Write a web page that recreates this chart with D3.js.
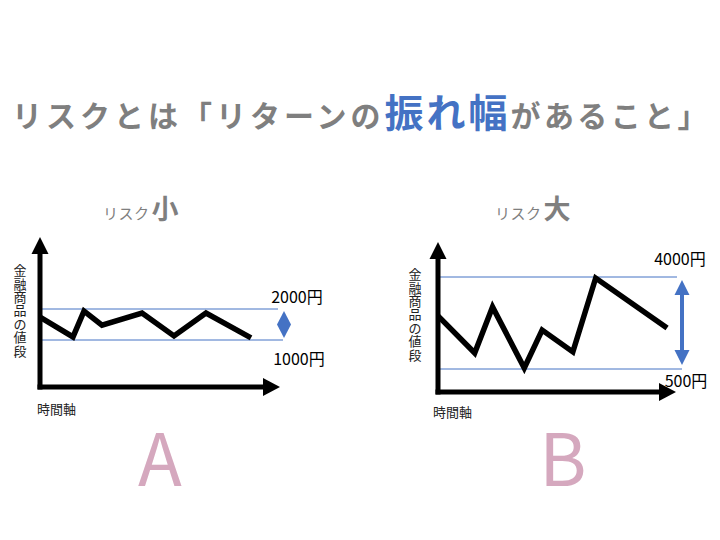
<!DOCTYPE html>
<html><head><meta charset="utf-8">
<script src="https://cdn.jsdelivr.net/npm/d3@7"></script>
<style>
html,body{margin:0;padding:0;background:#fff;}
svg{display:block;}
text{font-family:"Noto Sans CJK JP","Noto Sans",sans-serif;}
</style></head>
<body>
<svg id="chart" width="720" height="540"></svg>
<script>
// ---- data ----
const titleParts = [
  {text: "リスクとは「リターンの", emph: false},
  {text: "振れ幅", emph: true},
  {text: "があること」", emph: false}
];
const panelNames = ["A", "B"];
const panelRisk = ["小", "大"];
const yAxisLabel = "金融商品の値段";
const xAxisLabel = "時間軸";
const leftTimes  = [0, 3.3, 4.4, 6.2, 10.2, 13.4, 16.6, 21.1];
const leftPrices = [1740, 1100, 1930, 1480, 1870, 1130, 1870, 1070];
const rightTimes  = [0, 3.7, 5.5, 8.7, 10.5, 13.6, 15.9, 23.1];
const rightPrices = [2520, 1110, 2860, 540, 1980, 1150, 3960, 2060];
const leftBand  = [1000, 2000];
const rightBand = [500, 4000];
const leftBandLabels  = ["1000円", "2000円"];
const rightBandLabels = ["500円", "4000円"];

// ---- styles ----
const GRAY = "#7f7f7f", BLUE = "#4472C4", PINK = "#D5A8BE";
const svg = d3.select("#chart");

// title
const title = svg.append("text").attr("x", 12).attr("y", 127)
  .attr("font-weight", 700);
titleParts.forEach((p, k) => {
  title.append("tspan").text(p.text)
    .attr("fill", p.emph ? BLUE : GRAY)
    .attr("font-size", p.emph ? 39 : 30)
    .attr("letter-spacing", p.emph ? 3 : (k === 0 ? 4 : 3.4));
});

const panels = [
  {times: leftTimes, prices: leftPrices, band: leftBand, bandLabels: leftBandLabels,
   axisX: 40, axisY: 387, tipTop: 237, tipRight: 280, yRange: [340, 309],
   bandEnds: [283, 278], marker: "diamond", markerX: 284,
   labelPos: [[299, 358], [297, 296]],
   subX: 103, letterX: 160, yLabelX: 20, yLabelTop: 263, tLabelX: 37, tLabelY: 408},
  {times: rightTimes, prices: rightPrices, band: rightBand, bandLabels: rightBandLabels,
   axisX: 438, axisY: 392, tipTop: 242, tipRight: 676, yRange: [369, 277],
   bandEnds: [682, 677], marker: "arrow", markerX: 682,
   labelPos: [[686, 380], [680, 258]],
   subX: 495, letterX: 563, yLabelX: 415, yLabelTop: 267, tLabelX: 433, tLabelY: 411}
];

panels.forEach((c, i) => {
  const g = svg.append("g");
  const x = d3.scaleLinear().domain([0, 24]).range([c.axisX, c.tipRight]);
  const y = d3.scaleLinear().domain(c.band).range(c.yRange);

  // subtitle
  const st = g.append("text").attr("x", c.subX).attr("y", 219).attr("fill", GRAY);
  st.append("tspan").text("リスク").attr("font-size", 15).attr("letter-spacing", 0.5);
  st.append("tspan").text(panelRisk[i]).attr("font-size", 27).attr("font-weight", 700).attr("dx", 2);

  // band lines
  c.band.forEach((v, k) => {
    g.append("line").attr("x1", c.axisX).attr("x2", c.bandEnds[k])
      .attr("y1", y(v)).attr("y2", y(v))
      .attr("stroke", BLUE).attr("stroke-width", 1);
    g.append("text").attr("x", c.labelPos[k][0]).attr("y", c.labelPos[k][1])
      .attr("text-anchor", "middle").attr("dominant-baseline", "central")
      .attr("font-size", 16).attr("fill", "#000").text(c.bandLabels[k]);
  });

  // band marker
  const yTop = y(c.band[1]), yBot = y(c.band[0]);
  if (c.marker === "diamond") {
    const cy = (yTop + yBot) / 2, h = (yBot - yTop) / 2 - 2, w = 7;
    g.append("path").attr("fill", BLUE)
      .attr("d", `M${c.markerX},${cy - h}L${c.markerX + w},${cy}L${c.markerX},${cy + h}L${c.markerX - w},${cy}Z`);
  } else {
    const t = yTop + 3, b = yBot - 4, hw = 7.5, hh = 15, sw = 2;
    const mx = c.markerX;
    g.append("path").attr("fill", BLUE).attr("d",
      `M${mx},${t}L${mx + hw},${t + hh}L${mx + sw},${t + hh}L${mx + sw},${b - hh}L${mx + hw},${b - hh}` +
      `L${mx},${b}L${mx - hw},${b - hh}L${mx - sw},${b - hh}L${mx - sw},${t + hh}L${mx - hw},${t + hh}Z`);
  }

  // axes with arrowheads
  const aw = 5;
  g.append("line").attr("x1", c.axisX).attr("x2", c.axisX)
    .attr("y1", c.axisY + 2.5).attr("y2", c.tipTop + 14)
    .attr("stroke", "#000").attr("stroke-width", aw);
  g.append("path").attr("fill", "#000")
    .attr("d", `M${c.axisX},${c.tipTop}L${c.axisX + 8.5},${c.tipTop + 17}L${c.axisX - 8.5},${c.tipTop + 17}Z`);
  g.append("line").attr("x1", c.axisX - 2.5).attr("x2", c.tipRight - 14)
    .attr("y1", c.axisY).attr("y2", c.axisY)
    .attr("stroke", "#000").attr("stroke-width", aw);
  g.append("path").attr("fill", "#000")
    .attr("d", `M${c.tipRight},${c.axisY}L${c.tipRight - 17},${c.axisY - 9}L${c.tipRight - 17},${c.axisY + 9}Z`);

  // price line
  const line = d3.line().x(d => x(d[0])).y(d => y(d[1]));
  g.append("path").datum(d3.zip(c.times, c.prices))
    .attr("d", line).attr("fill", "none").attr("stroke", "#000")
    .attr("stroke-width", 5.5).attr("stroke-linejoin", "miter");

  // y label (vertical, stacked characters)
  const step = 13.4;
  Array.from(yAxisLabel).forEach((ch, k) => {
    g.append("text").attr("x", c.yLabelX).attr("y", c.yLabelTop + step / 2 + k * step)
      .attr("text-anchor", "middle").attr("dominant-baseline", "central")
      .attr("font-size", 13).attr("fill", "#222").text(ch);
  });
  // x label
  g.append("text").attr("x", c.tLabelX).attr("y", c.tLabelY)
    .attr("dominant-baseline", "central").attr("font-size", 13).attr("fill", "#222")
    .text(xAxisLabel);

  // big letter
  g.append("text").attr("x", c.letterX).attr("y", 486).attr("text-anchor", "middle")
    .attr("font-family", "Lato, 'Open Sans', sans-serif").attr("font-size", 72)
    .attr("fill", PINK).text(panelNames[i]);
});
</script>
</body></html>
